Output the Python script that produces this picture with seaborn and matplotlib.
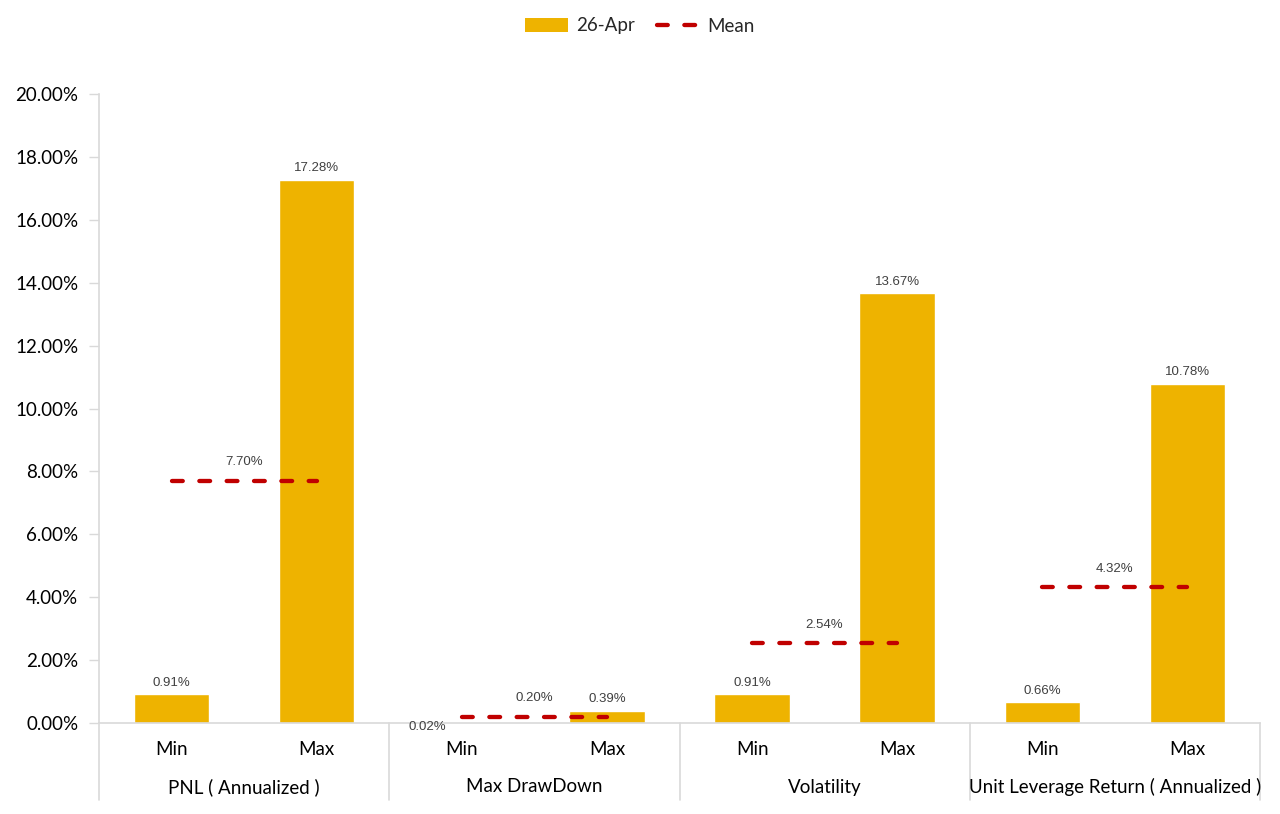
import matplotlib
matplotlib.use("Agg")
import matplotlib.pyplot as plt
import matplotlib.transforms as mtransforms
from matplotlib.patches import Patch
from matplotlib.lines import Line2D
import seaborn as sns
import pandas as pd

# chart values
metrics = ["PNL ( Annualized )", "Max DrawDown", "Volatility", "Unit Leverage Return ( Annualized )"]
stats = ["Min", "Max"]
min_vals = [0.91, 0.02, 0.91, 0.66]
max_vals = [17.28, 0.39, 13.67, 10.78]
mean_vals = [7.70, 0.20, 2.54, 4.32]
yticks = [0, 2, 4, 6, 8, 10, 12, 14, 16, 18, 20]

BAR = "#EEB300"
RED = "#C00000"
GREY = "#D9D9D9"

rows = []
for m, lo, hi in zip(metrics, min_vals, max_vals):
    rows.append({"key": m + "|Min", "stat": "Min", "metric": m, "value": lo})
    rows.append({"key": m + "|Max", "stat": "Max", "metric": m, "value": hi})
df = pd.DataFrame(rows)

sns.set_style("white")
plt.rcParams["font.family"] = ["Lato", "DejaVu Sans"]

fig = plt.figure(figsize=(12.8, 8.14), dpi=100)
ax = fig.add_axes([99 / 1280, 1 - 723 / 814, (1260 - 99) / 1280, (723 - 94) / 814])

sns.barplot(data=df, x="key", y="value", color=BAR, width=0.52, saturation=1, ax=ax)

# mean lines from Min centre to Max centre
for i, mv in enumerate(mean_vals):
    ax.plot([2 * i, 2 * i + 1], [mv, mv], color=RED, lw=3.1,
            dashes=(2.5, 3.85), dash_capstyle="round", zorder=4)

ax.set_xlim(-0.5, len(df) - 0.5)
ax.set_ylim(0, 20)
ax.set_yticks(yticks)
ax.set_yticklabels([f"{t:.2f}%" for t in yticks], fontsize=13.5, color="#000000")
ax.set_xticks(range(len(df)))
ax.set_xticklabels(df["stat"], fontsize=13.5, color="#000000")
ax.tick_params(axis="x", length=0, pad=13)
ax.tick_params(axis="y", length=7, width=1, color=GREY, pad=8, direction="out", left=True)
ax.set_xlabel("")
ax.set_ylabel("")
for s in ["top", "right"]:
    ax.spines[s].set_visible(False)
for s in ["left", "bottom"]:
    ax.spines[s].set_color(GREY)
    ax.spines[s].set_linewidth(1.2)

# value labels on bars
lab_kw = dict(ha="center", va="bottom", fontsize=9.5, color="#404040",
              family=["Liberation Sans", "DejaVu Sans"])
for i, v in enumerate(df["value"]):
    if v < 0.05:
        ax.annotate(f"{v:.2f}%", (i, v), xytext=(-25, -7.5), textcoords="offset points", **lab_kw)
    else:
        ax.annotate(f"{v:.2f}%", (i, v), xytext=(0, 4), textcoords="offset points", **lab_kw)
for i, mv in enumerate(mean_vals):
    ax.annotate(f"{mv:.2f}%", (2 * i + 0.5, mv), xytext=(0, 9), textcoords="offset points", **lab_kw)

# group labels and separators below the axis
trans = mtransforms.blended_transform_factory(ax.transData, ax.transAxes)
ax_h = 723 - 94
for i, m in enumerate(metrics):
    ax.text(2 * i + 0.5, -(787 - 723) / ax_h, m, transform=trans, ha="center", va="center",
            fontsize=13.5, color="#000000")
for b in range(len(metrics) + 1):
    ax.plot([2 * b - 0.5, 2 * b - 0.5], [0, -(800 - 723) / ax_h], transform=trans,
            color=GREY, lw=1.2, clip_on=False)

handles = [Patch(facecolor=BAR, edgecolor="none"),
           Line2D([0], [0], color=RED, lw=3.1, dashes=(2.5, 3.85), dash_capstyle="round")]
fig.legend(handles, ["26-Apr", "Mean"], loc="center", bbox_to_anchor=(0.5, 1 - 26 / 814),
           ncol=2, frameon=False, fontsize=13.5, handlelength=2.3, columnspacing=1.2,
           handletextpad=0.4)

fig.savefig("out.png", dpi=100)
